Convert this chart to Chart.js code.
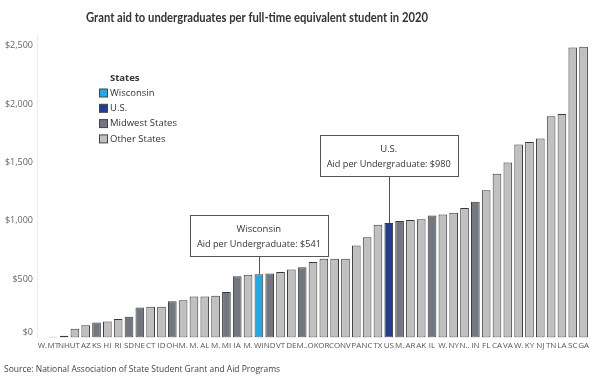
<!DOCTYPE html>
<html><head><meta charset="utf-8">
<script src="https://cdn.jsdelivr.net/npm/chart.js@4.4.1/dist/chart.umd.min.js"></script>
<style>html,body{margin:0;padding:0;background:#fff}#wrap{position:relative;width:600px;height:383px}</style>
</head><body><div id="wrap"><canvas id="c" width="600" height="383"></canvas></div>
<script>
const chartTitle = 'Grant aid to undergraduates per full-time equivalent student in 2020';
const sourceNote = 'Source: National Association of State Student Grant and Aid Programs';
const states = ['W.','MT','NH','UT','AZ','KS','HI','RI','SD','NE','CT','ID','OH','M.','M.','AL','M.','MI','IA','M.','WI','ND','VT','DE','M..','OK','OR','CO','NV','PA','NC','TX','US','M.','AR','AK','IL','W.','NY','N..','IN','FL','CA','VA','W.','KY','NJ','TN','LA','SC','GA'];
const aidPerFTE = [0,6,15,74,105,128,137,158,177,256,262,262,310,319,350,350,356,390,524,536,541,547,561,581,601,647,673,675,675,787,858,966,980,998,1005,1012,1045,1054,1068,1108,1162,1262,1402,1499,1652,1675,1704,1895,1915,2485,2490];
const stateGroup = ['Other','Other','Other','Other','Other','Midwest','Other','Other','Midwest','Midwest','Other','Other','Midwest','Other','Other','Other','Other','Midwest','Midwest','Other','Wisconsin','Midwest','Other','Other','Midwest','Other','Other','Other','Other','Other','Other','Other','US','Midwest','Other','Other','Midwest','Other','Other','Other','Midwest','Other','Other','Other','Other','Other','Other','Other','Other','Other','Other'];
const groupKeys = ['Wisconsin','US','Midwest','Other'];
const groupNames = ['Wisconsin','U.S.','Midwest States','Other States'];
const groupColors = ['#29a8e0','#233d8f','#737780','#c0c0c0'];
const yTicks = [0,500,1000,1500,2000,2500];
const callouts = [{state:'WI', name:'Wisconsin', gap:18}, {state:'US', name:'U.S.', gap:47}];

const FONT = "'Open Sans', 'Noto Sans', sans-serif";
const money = v => '$' + Number(v).toLocaleString('en-US');

const overlay = {
  id: 'overlay',
  afterDatasetsDraw(chart) {
    const ctx = chart.ctx;
    ctx.save();
    // title
    ctx.fillStyle = '#333';
    ctx.font = `bold 12.5px Lato, ${FONT}`;
    ctx.textAlign = 'center';
    ctx.textBaseline = 'middle';
    ctx.fillText(chartTitle, 257, 18, 342);
    // source
    ctx.font = `8.5px ${FONT}`;
    ctx.textAlign = 'left';
    ctx.fillStyle = '#444';
    ctx.fillText(sourceNote, 4, 370);
    // legend
    ctx.font = `bold 9.5px ${FONT}`;
    ctx.fillStyle = '#333';
    ctx.fillText('States', 110, 78);
    ctx.font = `9.5px ${FONT}`;
    groupNames.forEach((n, i) => {
      const y = 93 + i * 15.3;
      ctx.fillStyle = groupColors[i];
      ctx.fillRect(99.5, y - 4, 8, 8);
      ctx.strokeStyle = '#444';
      ctx.lineWidth = 1;
      ctx.strokeRect(99.5, y - 4, 8, 8);
      ctx.fillStyle = '#333';
      ctx.fillText(n, 110, y);
    });
    // callouts
    const meta = chart.getDatasetMeta(0);
    callouts.forEach(c => {
      const i = states.indexOf(c.state);
      const bar = meta.data[i];
      const w = 138, h = 41;
      const bottom = bar.y - c.gap;
      const top = bottom - h;
      const left = Math.round(bar.x - w / 2) + 0.5;
      ctx.strokeStyle = '#555';
      ctx.lineWidth = 1;
      ctx.beginPath();
      ctx.moveTo(Math.round(bar.x) + 0.5, bottom);
      ctx.lineTo(Math.round(bar.x) + 0.5, bar.y);
      ctx.stroke();
      ctx.fillStyle = '#fff';
      ctx.fillRect(left, Math.round(top) + 0.5, w, h);
      ctx.strokeRect(left, Math.round(top) + 0.5, w, h);
      ctx.fillStyle = '#333';
      ctx.textAlign = 'center';
      ctx.font = `9.5px ${FONT}`;
      ctx.fillText(c.name, bar.x, top + 14);
      ctx.fillText('Aid per Undergraduate: ' + money(aidPerFTE[i]), bar.x, top + 29, 124);
    });
    ctx.restore();
  }
};

new Chart(document.getElementById('c'), {
  type: 'bar',
  data: {
    labels: states,
    datasets: [{
      data: aidPerFTE,
      backgroundColor: stateGroup.map(g => groupColors[groupKeys.indexOf(g)]),
      borderColor: '#3a3a3a',
      borderWidth: 1,
      borderSkipped: false,
      barPercentage: 0.8,
      categoryPercentage: 1
    }]
  },
  options: {
    responsive: false,
    animation: false,
    devicePixelRatio: 1,
    layout: { padding: { top: 34, right: 11, bottom: 28, left: 0 } },
    plugins: { legend: { display: false }, tooltip: { enabled: false }, title: { display: false } },
    scales: {
      x: {
        grid: { display: false, drawTicks: false },
        border: { display: false },
        ticks: { autoSkip: false, maxRotation: 0, minRotation: 0, padding: 4, color: '#555', font: { family: FONT, size: 8 } }
      },
      y: {
        min: 0, max: 2600,
        grid: { display: false, drawTicks: false },
        border: { display: true, color: '#ececec' },
        afterBuildTicks: s => { s.ticks = yTicks.map(v => ({ value: v })); },
        afterFit: s => { s.width = 37; },
        ticks: {
          padding: 4, color: '#666', font: { family: FONT, size: 9 },
          callback: v => v === 0 ? [money(v), ''] : money(v)
        }
      }
    }
  },
  plugins: [overlay]
});
</script></body></html>
